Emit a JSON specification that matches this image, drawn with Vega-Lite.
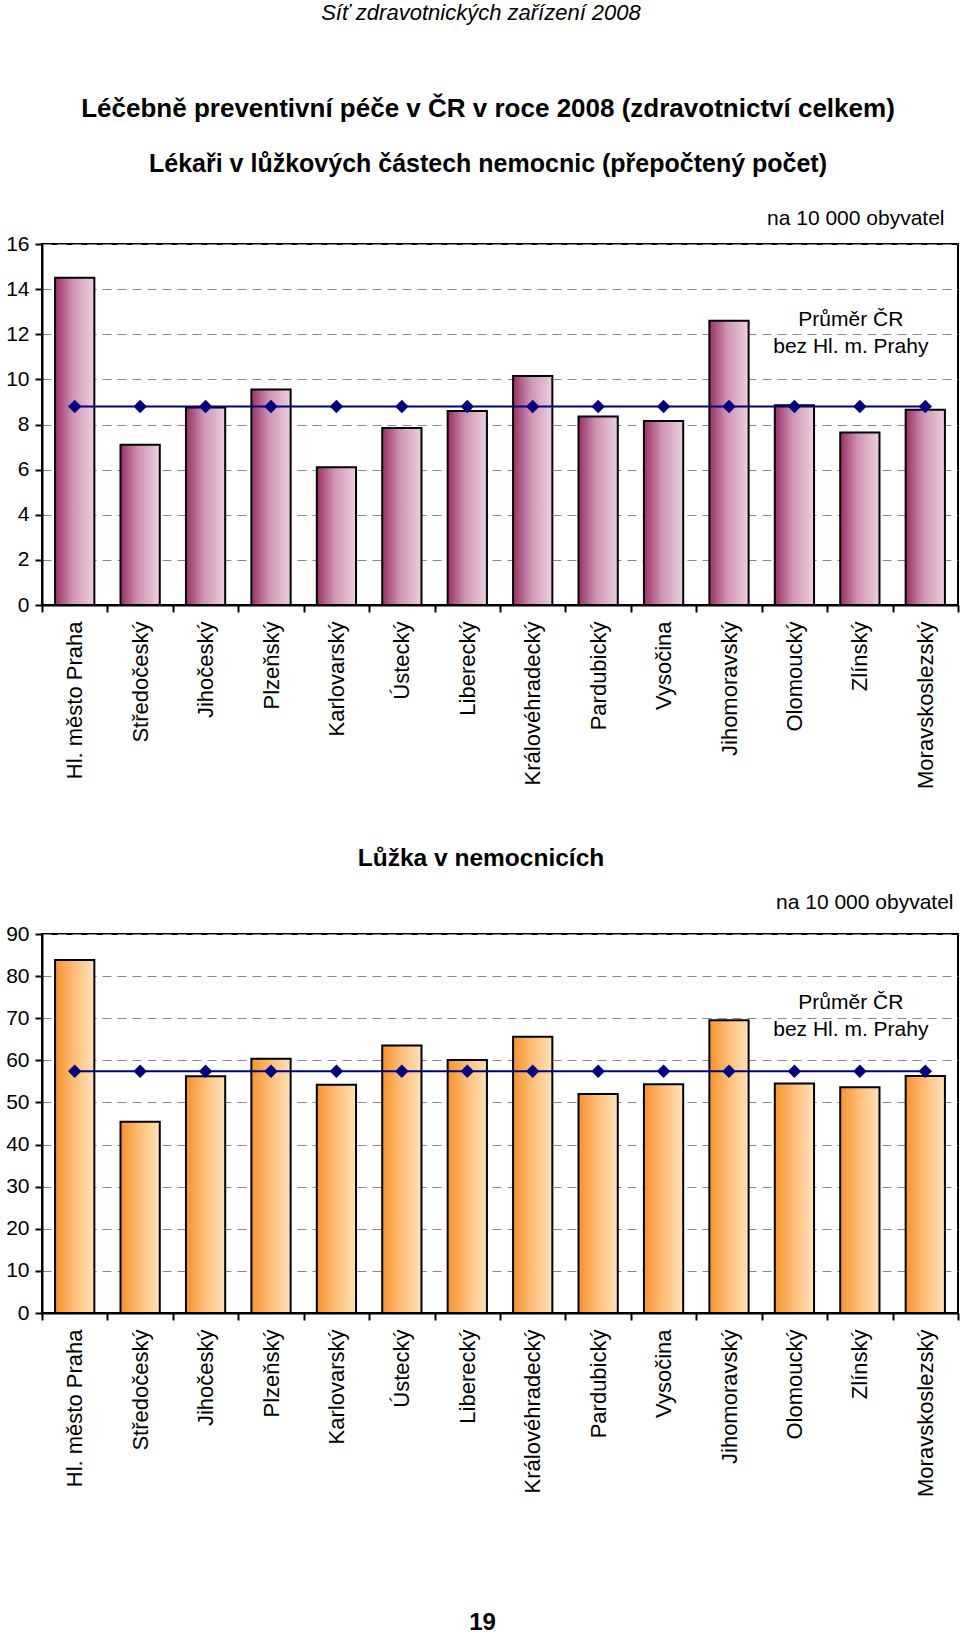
{
  "$schema": "https://vega.github.io/schema/vega-lite/v6.json",
  "background": "white",
  "padding": {"left": 2, "top": 2, "right": 3, "bottom": 0},
  "spacing": 54,
  "title": {
    "text": "Síť zdravotnických zařízení 2008",
    "font": "Liberation Sans",
    "fontSize": 22,
    "fontStyle": "italic",
    "fontWeight": "normal",
    "color": "black",
    "anchor": "middle",
    "offset": 70
  },
  "datasets": {
    "lekari": [
      {"region": "Hl. město Praha", "value": 14.5, "avg": 8.8},
      {"region": "Středočeský", "value": 7.1, "avg": 8.8},
      {"region": "Jihočeský", "value": 8.75, "avg": 8.8},
      {"region": "Plzeňský", "value": 9.55, "avg": 8.8},
      {"region": "Karlovarský", "value": 6.1, "avg": 8.8},
      {"region": "Ústecký", "value": 7.85, "avg": 8.8},
      {"region": "Liberecký", "value": 8.6, "avg": 8.8},
      {"region": "Královéhradecký", "value": 10.15, "avg": 8.8},
      {"region": "Pardubický", "value": 8.35, "avg": 8.8},
      {"region": "Vysočina", "value": 8.15, "avg": 8.8},
      {"region": "Jihomoravský", "value": 12.6, "avg": 8.8},
      {"region": "Olomoucký", "value": 8.85, "avg": 8.8},
      {"region": "Zlínský", "value": 7.65, "avg": 8.8},
      {"region": "Moravskoslezský", "value": 8.65, "avg": 8.8}
    ],
    "luzka": [
      {"region": "Hl. město Praha", "value": 83.8, "avg": 57.4},
      {"region": "Středočeský", "value": 45.4, "avg": 57.4},
      {"region": "Jihočeský", "value": 56.2, "avg": 57.4},
      {"region": "Plzeňský", "value": 60.4, "avg": 57.4},
      {"region": "Karlovarský", "value": 54.2, "avg": 57.4},
      {"region": "Ústecký", "value": 63.5, "avg": 57.4},
      {"region": "Liberecký", "value": 60.1, "avg": 57.4},
      {"region": "Královéhradecký", "value": 65.6, "avg": 57.4},
      {"region": "Pardubický", "value": 52.0, "avg": 57.4},
      {"region": "Vysočina", "value": 54.3, "avg": 57.4},
      {"region": "Jihomoravský", "value": 69.5, "avg": 57.4},
      {"region": "Olomoucký", "value": 54.5, "avg": 57.4},
      {"region": "Zlínský", "value": 53.6, "avg": 57.4},
      {"region": "Moravskoslezský", "value": 56.3, "avg": 57.4}
    ],
    "note": [
      {"label": "Průměr ČR bez Hl. m. Prahy"}
    ]
  },
  "config": {
    "font": "Liberation Sans",
    "view": {"stroke": "black", "strokeWidth": 2},
    "axis": {
      "labelFont": "Liberation Sans",
      "titleFont": "Liberation Sans",
      "labelColor": "black",
      "titleColor": "black",
      "domainColor": "black",
      "domainWidth": 2,
      "tickColor": "black",
      "tickWidth": 2
    },
    "title": {"color": "black", "subtitleColor": "black"}
  },
  "vconcat": [
    {
      "width": 916,
      "height": 361,
      "title": {
        "text": "Léčebně preventivní péče v ČR v roce 2008 (zdravotnictví celkem)",
        "subtitle": "Lékaři v lůžkových částech nemocnic (přepočtený počet)",
        "font": "Liberation Sans",
        "subtitleFont": "Liberation Sans",
        "fontSize": 26,
        "subtitleFontSize": 25,
        "fontWeight": "bold",
        "subtitleFontWeight": "bold",
        "subtitlePadding": 30,
        "offset": 30.5,
        "anchor": "middle",
        "frame": "group",
        "dx": -12
      },
      "data": {"name": "lekari"},
      "resolve": {"axis": {"x": "independent"}},
      "layer": [
        {
          "mark": {
            "type": "bar",
            "width": {"band": 0.6},
            "stroke": "black",
            "strokeWidth": 2,
            "color": {
              "gradient": "linear", "x1": 0, "x2": 1, "y1": 0, "y2": 0,
              "stops": [
                {"offset": 0, "color": "#983066"},
                {"offset": 0.45, "color": "#cf93b3"},
                {"offset": 1, "color": "#ecd0e0"}
              ]
            }
          },
          "encoding": {
            "x": {
              "field": "region", "type": "nominal", "sort": null,
              "scale": {"paddingInner": 0, "paddingOuter": 0},
              "axis": {
                "orient": "bottom", "title": null, "labelAngle": 270,
                "labelAlign": "right", "labelBaseline": "middle",
                "labelFontSize": 22, "labelPadding": 9, "labelLimit": 400,
                "tickSize": 7, "tickBand": "extent", "grid": false
              }
            },
            "y": {
              "field": "value", "type": "quantitative",
              "scale": {"domain": [0, 16], "nice": false},
              "axis": {
                "title": null, "values": [0, 2, 4, 6, 8, 10, 12, 14, 16],
                "labelFontSize": 21, "labelPadding": 6, "tickSize": 7,
                "minExtent": 39, "maxExtent": 39,
                "grid": true, "gridColor": "#8a8a8a", "gridDash": [9, 6], "gridWidth": 1
              }
            }
          }
        },
        {
          "mark": {"type": "line", "color": "#000080", "strokeWidth": 2},
          "encoding": {
            "x": {
              "field": "region", "type": "nominal", "sort": null,
              "axis": {
                "orient": "top", "labels": false, "ticks": false, "domain": false, "grid": false,
                "title": "na 10 000 obyvatel", "titleFontSize": 21, "titleFontWeight": "normal",
                "titleAnchor": "end", "titleAlign": "right", "titleX": 902, "titlePadding": 15.5
              }
            },
            "y": {"field": "avg", "type": "quantitative"}
          }
        },
        {
          "mark": {"type": "point", "shape": "diamond", "filled": true, "size": 180, "color": "#000080", "opacity": 1},
          "encoding": {
            "x": {"field": "region", "type": "nominal", "sort": null, "axis": null},
            "y": {"field": "avg", "type": "quantitative"}
          }
        },
        {
          "data": {"name": "note"},
          "mark": {"type": "text", "fontSize": 21, "lineHeight": 27, "align": "center", "baseline": "middle", "dx": -9, "color": "black"},
          "encoding": {
            "x": {"datum": "Zlínský", "type": "nominal", "axis": null},
            "y": {"datum": 12.63, "type": "quantitative"},
            "text": {"value": ["Průměr ČR", "bez Hl. m. Prahy"]}
          }
        }
      ]
    },
    {
      "width": 916,
      "height": 379,
      "title": {
        "text": "Lůžka v nemocnicích",
        "font": "Liberation Sans",
        "fontSize": 24.5,
        "fontWeight": "bold",
        "offset": 20,
        "anchor": "middle",
        "frame": "bounds"
      },
      "data": {"name": "luzka"},
      "resolve": {"axis": {"x": "independent"}},
      "layer": [
        {
          "mark": {
            "type": "bar",
            "width": {"band": 0.6},
            "stroke": "black",
            "strokeWidth": 2,
            "color": {
              "gradient": "linear", "x1": 0, "x2": 1, "y1": 0, "y2": 0,
              "stops": [
                {"offset": 0, "color": "#f7922a"},
                {"offset": 0.5, "color": "#fdbf7a"},
                {"offset": 1, "color": "#ffe2b8"}
              ]
            }
          },
          "encoding": {
            "x": {
              "field": "region", "type": "nominal", "sort": null,
              "scale": {"paddingInner": 0, "paddingOuter": 0},
              "axis": {
                "orient": "bottom", "labelAngle": 270,
                "labelAlign": "right", "labelBaseline": "middle",
                "labelFontSize": 22, "labelPadding": 9, "labelLimit": 400,
                "tickSize": 7, "tickBand": "extent", "grid": false,
                "title": "19", "titleFontSize": 24, "titleFontWeight": "bold",
                "titlePadding": 114, "titleX": 440, "titleAlign": "center"
              }
            },
            "y": {
              "field": "value", "type": "quantitative",
              "scale": {"domain": [0, 90], "nice": false},
              "axis": {
                "title": null, "values": [0, 10, 20, 30, 40, 50, 60, 70, 80, 90],
                "labelFontSize": 21, "labelPadding": 6, "tickSize": 7,
                "minExtent": 39, "maxExtent": 39,
                "grid": true, "gridColor": "#8a8a8a", "gridDash": [9, 6], "gridWidth": 1
              }
            }
          }
        },
        {
          "mark": {"type": "line", "color": "#000080", "strokeWidth": 2},
          "encoding": {
            "x": {
              "field": "region", "type": "nominal", "sort": null,
              "axis": {
                "orient": "top", "labels": false, "ticks": false, "domain": false, "grid": false,
                "title": "na 10 000 obyvatel", "titleFontSize": 21, "titleFontWeight": "normal",
                "titleAnchor": "end", "titleAlign": "right", "titleX": 911, "titlePadding": 22
              }
            },
            "y": {"field": "avg", "type": "quantitative"}
          }
        },
        {
          "mark": {"type": "point", "shape": "diamond", "filled": true, "size": 180, "color": "#000080", "opacity": 1},
          "encoding": {
            "x": {"field": "region", "type": "nominal", "sort": null, "axis": null},
            "y": {"field": "avg", "type": "quantitative"}
          }
        },
        {
          "data": {"name": "note"},
          "mark": {"type": "text", "fontSize": 21, "lineHeight": 27, "align": "center", "baseline": "middle", "dx": -9, "color": "black"},
          "encoding": {
            "x": {"datum": "Zlínský", "type": "nominal", "axis": null},
            "y": {"datum": 73.6, "type": "quantitative"},
            "text": {"value": ["Průměr ČR", "bez Hl. m. Prahy"]}
          }
        }
      ]
    }
  ]
}
